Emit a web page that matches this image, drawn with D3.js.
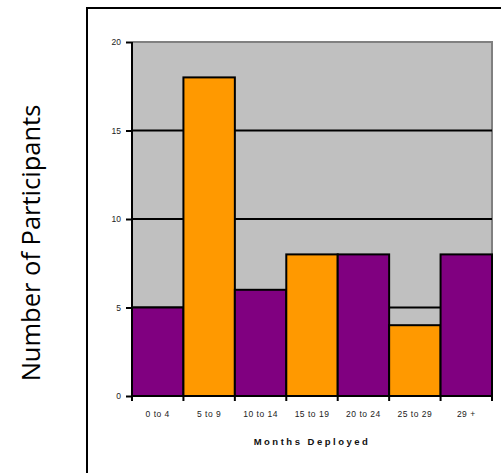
<!DOCTYPE html>
<html><head><meta charset="utf-8">
<script src="https://cdn.jsdelivr.net/npm/d3@7"></script>
<style>body{margin:0;background:#fff}svg{display:block}</style>
</head><body>
<script>
const categories = ["0 to 4","5 to 9","10 to 14","15 to 19","20 to 24","25 to 29","29 +"];
const values = [5, 18, 6, 8, 8, 4, 8];
const colors = ["#800080","#ff9900","#800080","#ff9900","#800080","#ff9900","#800080"];
const yTicks = [0, 5, 10, 15, 20];

const W = 501, H = 473;
const svg = d3.select("body").append("svg").attr("width", W).attr("height", H);

// outer frame
svg.append("rect").attr("x", 87).attr("y", 8).attr("width", 430).attr("height", 480)
  .attr("fill", "none").attr("stroke", "#000").attr("stroke-width", 2);

const L = 132, R = 492, T = 42, B = 396;
const x = d3.scaleBand().domain(categories).range([L, R]).padding(0);
const y = d3.scaleLinear().domain([0, 20]).range([B, T]);

svg.append("rect").attr("x", L).attr("y", T).attr("width", R - L).attr("height", B - T)
  .attr("fill", "#c0c0c0");
svg.append("path").attr("d", `M${L},${T}H${R}V${B}`).attr("fill", "none")
  .attr("stroke", "#808080").attr("stroke-width", 2);

// gridlines
svg.append("g").selectAll("line").data(yTicks.filter(d => d > 0 && d < 20)).join("line")
  .attr("x1", L).attr("x2", R).attr("y1", d => y(d)).attr("y2", d => y(d))
  .attr("stroke", "#000").attr("stroke-width", 2);

// bars
svg.append("g").selectAll("rect").data(values).join("rect")
  .attr("x", (d, i) => x(categories[i]))
  .attr("y", d => y(d))
  .attr("width", x.bandwidth())
  .attr("height", d => B - y(d))
  .attr("fill", (d, i) => colors[i])
  .attr("stroke", "#000").attr("stroke-width", 2);

// y axis
const yAxis = svg.append("g").attr("transform", `translate(${L},0)`)
  .call(d3.axisLeft(y).tickValues(yTicks).tickSize(6).tickPadding(5));
yAxis.select(".domain").attr("stroke", "#000").attr("stroke-width", 2).attr("d", `M0,${T}V${B}`);
yAxis.selectAll(".tick line").attr("stroke", "#000").attr("stroke-width", 2);
yAxis.selectAll("text").attr("font-family", "Arial, 'Liberation Sans', sans-serif")
  .attr("font-size", 8.5).attr("fill", "#222");

// x axis
const xEdges = d3.range(categories.length + 1).map(i => L + i * x.step());
svg.append("line").attr("x1", L).attr("x2", R).attr("y1", B).attr("y2", B)
  .attr("stroke", "#000").attr("stroke-width", 2);
svg.append("g").selectAll("line").data(xEdges).join("line")
  .attr("x1", d => d).attr("x2", d => d).attr("y1", B).attr("y2", B + 5)
  .attr("stroke", "#000").attr("stroke-width", 2);
const xAxis = svg.append("g").attr("transform", `translate(0,${B})`)
  .call(d3.axisBottom(x).tickSize(0).tickPadding(15));
xAxis.select(".domain").remove();
xAxis.selectAll("text").attr("font-family", "Arial, 'Liberation Sans', sans-serif")
  .attr("font-size", 8.5).attr("fill", "#222").attr("letter-spacing", "0.5px");

// x title
svg.append("text").attr("x", (L + R) / 2).attr("y", 445).attr("text-anchor", "middle")
  .attr("font-family", "Arial, 'Liberation Sans', sans-serif").attr("font-size", 9.5)
  .attr("font-weight", "bold").attr("letter-spacing", "2.5px").attr("fill", "#111")
  .text("Months Deployed");

// y title
svg.append("text").attr("transform", "translate(40,243) rotate(-90)")
  .attr("text-anchor", "middle").attr("font-family", "'Open Sans', sans-serif")
  .attr("font-size", 25.5).attr("fill", "#000").text("Number of Participants");
</script>
</body></html>
